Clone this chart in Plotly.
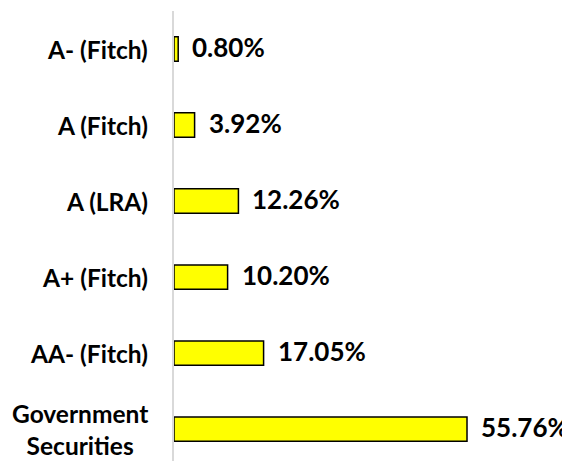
import plotly.graph_objects as go

categories = ["Government<br>Securities", "AA- (Fitch)", "A+ (Fitch)", "A (LRA)", "A (Fitch)", "A- (Fitch)"]
values = [55.76, 17.05, 10.20, 12.26, 3.92, 0.80]
labels = ["55.76%", "17.05%", "10.20%", "12.26%", "3.92%", "0.80%"]

FONT = "Lato"
fig = go.Figure()
fig.add_trace(go.Bar(
    y=list(range(len(categories))), x=values, orientation="h",
    width=0.32,
    marker=dict(color="#FFFF00", line=dict(color="#000000", width=1.5)),
    hoverinfo="skip",
))

ann = []
for i, (c, v, t) in enumerate(zip(categories, values, labels)):
    ann.append(dict(x=0, xref="paper", y=i, yref="y", text=c, showarrow=False,
                    xanchor="right", yanchor="middle", align="center", xshift=-24,
                    font=dict(family=FONT, size=24.5, color="#000000", weight="bold")))
    ann.append(dict(x=v, xref="x", y=i, yref="y", text=t, showarrow=False,
                    xanchor="left", yanchor="middle", xshift=12, yshift=2,
                    font=dict(family=FONT, size=26, color="#000000", weight="bold")))

fig.update_layout(
    width=562, height=453,
    margin=dict(l=166, r=0, t=3, b=0),
    paper_bgcolor="white", plot_bgcolor="white",
    showlegend=False,
    annotations=ann,
    xaxis=dict(range=[0, 75.36], visible=False, showgrid=False, zeroline=False),
    yaxis=dict(range=[-0.42, 5.5], showticklabels=False, showgrid=False, zeroline=False,
               showline=True, linecolor="#D9D9D9", linewidth=2, ticks=""),
)
fig.write_html("out.html")
